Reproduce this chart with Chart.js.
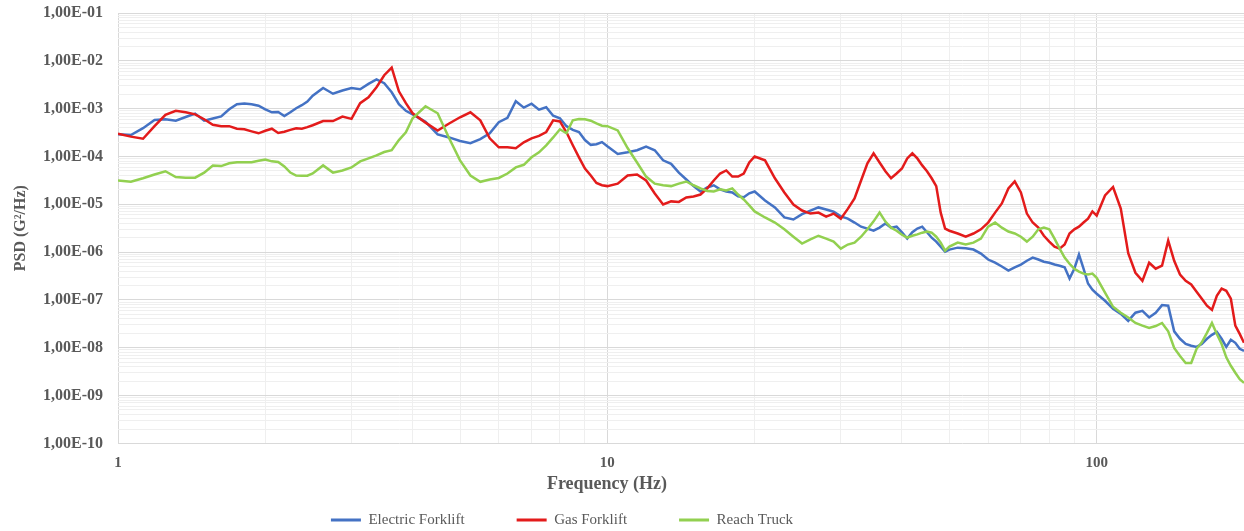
<!DOCTYPE html>
<html>
<head>
<meta charset="utf-8">
<title>PSD</title>
<script src="https://cdn.jsdelivr.net/npm/chart.js@4.4.1/dist/chart.umd.min.js"></script>
<style>
  html, body { margin: 0; padding: 0; background: #fff; overflow: hidden; }
  #wrap { width: 1244px; height: 531px; }
</style>
</head>
<body>
<div id="wrap"><canvas id="psdChart" width="1244" height="531"></canvas></div>
<script>
// Frequenzen (Hz), gemeinsam für alle drei Messreihen
const freqHz = [
  1, 1.0625, 1.125, 1.1875, 1.25, 1.3125, 1.375, 1.4375, 1.5, 1.5625, 1.625, 1.6875, 1.75,
  1.8125, 1.875, 1.9375, 2, 2.0625, 2.125, 2.1875, 2.25, 2.3125, 2.375, 2.4375, 2.5,
  2.625, 2.75, 2.875, 3, 3.125, 3.25, 3.375, 3.5, 3.625, 3.75, 3.875, 4,
  4.25, 4.5, 4.75, 5, 5.25, 5.5, 5.75, 6, 6.25, 6.5, 6.75, 7, 7.25, 7.5, 7.75, 8,
  8.25, 8.5, 8.75, 9, 9.25, 9.5, 9.75, 10,
  10.5, 11, 11.5, 12, 12.5, 13, 13.5, 14, 14.5, 15, 15.5, 16, 16.5, 17, 17.5, 18, 18.5, 19, 19.5, 20,
  21, 22, 23, 24, 25, 26, 27, 28, 29, 30, 31, 32, 33, 34, 35, 36, 37, 38, 39, 40,
  41, 42, 43, 44, 45, 46, 47, 48, 49, 50,
  52, 54, 56, 58, 60, 62, 64, 66, 68, 70, 72, 74, 76, 78, 80, 82, 84, 86, 88, 90, 92, 94, 96, 98, 100,
  104, 108, 112, 116, 120, 124, 128, 132, 136, 140, 144, 148, 152, 156, 160, 164, 168, 172, 176, 180,
  184, 188, 192, 196, 200
];

// PSD in G²/Hz
const electricPsd = [
  2.9e-4, 2.8e-4, 3.9e-4, 5.8e-4, 6.0e-4, 5.6e-4, 6.7e-4, 7.9e-4, 5.6e-4, 6.2e-4, 6.9e-4, 9.7e-4, 1.24e-3,
  1.28e-3, 1.24e-3, 1.15e-3, 9.7e-4, 8.4e-4, 8.5e-4, 7.0e-4, 8.4e-4, 1.02e-3, 1.18e-3, 1.40e-3, 1.86e-3,
  2.7e-3, 2.05e-3, 2.4e-3, 2.7e-3, 2.55e-3, 3.3e-3, 4.1e-3, 3.4e-3, 2.2e-3, 1.24e-3, 9.0e-4, 7.6e-4,
  5.3e-4, 2.9e-4, 2.5e-4, 2.1e-4, 1.9e-4, 2.3e-4, 3.05e-4, 5.2e-4, 6.4e-4, 1.43e-3, 1.05e-3, 1.27e-3,
  9.5e-4, 1.07e-3, 7.1e-4, 6.3e-4, 4.3e-4, 3.6e-4, 3.25e-4, 2.2e-4, 1.75e-4, 1.8e-4, 2.0e-4, 1.63e-4,
  1.13e-4, 1.22e-4, 1.35e-4, 1.6e-4, 1.35e-4, 8.3e-5, 7.0e-5, 4.6e-5, 3.3e-5, 2.4e-5, 1.85e-5, 2.25e-5,
  2.5e-5, 2.05e-5, 1.85e-5, 1.77e-5, 1.46e-5, 1.4e-5, 1.7e-5, 1.85e-5,
  1.2e-5, 8.6e-6, 5.3e-6, 4.8e-6, 6.2e-6, 7.4e-6, 8.6e-6, 7.8e-6, 7.0e-6, 5.6e-6, 5.0e-6, 4.15e-6,
  3.4e-6, 3.1e-6, 2.8e-6, 3.25e-6, 3.95e-6, 3.25e-6, 3.4e-6, 2.6e-6,
  1.92e-6, 2.6e-6, 3.1e-6, 3.4e-6, 2.6e-6, 2.0e-6, 1.66e-6, 1.30e-6, 1.02e-6, 1.13e-6,
  1.24e-6, 1.2e-6, 1.13e-6, 9.3e-7, 7.0e-7, 6.0e-7, 5.0e-7, 4.1e-7, 4.8e-7, 5.5e-7, 6.6e-7, 7.7e-7,
  7.0e-7, 6.3e-7, 6.0e-7, 5.5e-7, 5.2e-7, 4.8e-7, 2.8e-7, 4.5e-7, 8.9e-7, 4.5e-7, 2.2e-7, 1.64e-7, 1.35e-7,
  9.6e-8, 6.5e-8, 5.1e-8, 3.65e-8, 5.4e-8, 5.9e-8, 4.3e-8, 5.4e-8, 7.8e-8, 7.6e-8, 2.2e-8, 1.54e-8,
  1.2e-8, 1.1e-8, 1.04e-8, 1.2e-8, 1.54e-8, 1.86e-8, 2.15e-8, 1.54e-8, 1.04e-8, 1.47e-8, 1.27e-8, 9.5e-9, 8.6e-9
];

const gasPsd = [
  3.0e-4, 2.6e-4, 2.35e-4, 4.3e-4, 7.4e-4, 9.0e-4, 8.4e-4, 7.6e-4, 6.0e-4, 4.6e-4, 4.3e-4, 4.3e-4, 3.8e-4,
  3.7e-4, 3.35e-4, 3.05e-4, 3.45e-4, 3.8e-4, 3.1e-4, 3.3e-4, 3.6e-4, 3.9e-4, 3.8e-4, 4.1e-4, 4.5e-4,
  5.5e-4, 5.5e-4, 6.8e-4, 6.1e-4, 1.30e-3, 1.73e-3, 2.8e-3, 5.0e-3, 7.2e-3, 2.3e-3, 1.30e-3, 8.0e-4,
  5.1e-4, 3.5e-4, 4.9e-4, 6.6e-4, 8.4e-4, 5.7e-4, 2.4e-4, 1.55e-4, 1.55e-4, 1.48e-4, 1.98e-4, 2.4e-4,
  2.7e-4, 3.25e-4, 5.7e-4, 5.4e-4, 3.2e-4, 1.71e-4, 9.6e-5, 5.6e-5, 4.0e-5, 2.8e-5, 2.5e-5, 2.4e-5,
  2.7e-5, 4.0e-5, 4.2e-5, 3.15e-5, 1.68e-5, 9.9e-6, 1.15e-5, 1.12e-5, 1.39e-5, 1.46e-5, 1.6e-5, 2.15e-5,
  3.15e-5, 4.4e-5, 5.1e-5, 3.8e-5, 3.8e-5, 4.4e-5, 7.5e-5, 1.0e-4,
  8.3e-5, 3.5e-5, 1.77e-5, 9.9e-6, 7.4e-6, 6.4e-6, 6.7e-6, 5.5e-6, 6.4e-6, 5.0e-6, 8.0e-6, 1.33e-5,
  3.15e-5, 7.2e-5, 1.16e-4, 7.5e-5, 4.9e-5, 3.5e-5, 4.4e-5, 5.6e-5,
  9.1e-5, 1.16e-4, 9.1e-5, 6.5e-5, 4.9e-5, 3.5e-5, 2.4e-5, 6.7e-6, 3.1e-6, 2.8e-6,
  2.45e-6, 2.1e-6, 2.45e-6, 3.0e-6, 4.15e-6, 6.7e-6, 1.04e-5, 2.15e-5, 3.0e-5, 1.77e-5, 6.4e-6, 4.15e-6,
  3.25e-6, 2.2e-6, 1.66e-6, 1.30e-6, 1.18e-6, 1.44e-6, 2.45e-6, 3.0e-6, 3.4e-6, 4.15e-6, 5.0e-6, 7.1e-6, 5.8e-6,
  1.53e-5, 2.3e-5, 8.1e-6, 9.5e-7, 3.7e-7, 2.5e-7, 6.0e-7, 4.5e-7, 5.2e-7, 1.74e-6, 6.6e-7, 3.4e-7,
  2.5e-7, 2.1e-7, 1.49e-7, 1.06e-7, 7.6e-8, 6.2e-8, 1.22e-7, 1.72e-7, 1.55e-7, 1.06e-7, 2.9e-8, 1.95e-8, 1.27e-8
];

const reachPsd = [
  3.15e-5, 2.95e-5, 3.5e-5, 4.2e-5, 4.9e-5, 3.7e-5, 3.6e-5, 3.6e-5, 4.6e-5, 6.5e-5, 6.3e-5, 7.2e-5, 7.6e-5,
  7.6e-5, 7.6e-5, 8.1e-5, 8.6e-5, 7.9e-5, 7.7e-5, 6.2e-5, 4.6e-5, 4.0e-5, 3.95e-5, 3.95e-5, 4.4e-5,
  6.5e-5, 4.6e-5, 5.1e-5, 5.9e-5, 7.9e-5, 9.1e-5, 1.05e-4, 1.24e-4, 1.35e-4, 2.2e-4, 3.2e-4, 6.3e-4,
  1.12e-3, 8.0e-4, 2.4e-4, 8.3e-5, 4.0e-5, 2.95e-5, 3.3e-5, 3.55e-5, 4.4e-5, 5.9e-5, 6.7e-5, 9.6e-5,
  1.22e-4, 1.71e-4, 2.5e-4, 3.7e-4, 3.05e-4, 5.7e-4, 6.1e-4, 6.0e-4, 5.6e-4, 4.9e-4, 4.4e-4, 4.3e-4,
  3.5e-4, 1.5e-4, 7.5e-5, 3.8e-5, 2.7e-5, 2.5e-5, 2.4e-5, 2.7e-5, 3.0e-5, 2.5e-5, 2.15e-5, 1.9e-5,
  1.85e-5, 2.05e-5, 1.95e-5, 2.15e-5, 1.6e-5, 1.26e-5, 9.5e-6, 7.1e-6,
  5.3e-6, 4.15e-6, 3.0e-6, 2.1e-6, 1.51e-6, 1.84e-6, 2.2e-6, 1.92e-6, 1.66e-6, 1.18e-6, 1.44e-6, 1.58e-6,
  2.1e-6, 3.0e-6, 4.4e-6, 6.7e-6, 4.35e-6, 3.25e-6, 2.8e-6, 2.3e-6,
  2.0e-6, 2.2e-6, 2.35e-6, 2.55e-6, 2.7e-6, 2.55e-6, 2.1e-6, 1.58e-6, 1.07e-6, 1.30e-6,
  1.58e-6, 1.44e-6, 1.58e-6, 1.92e-6, 3.4e-6, 4.15e-6, 3.25e-6, 2.7e-6, 2.45e-6, 2.1e-6, 1.66e-6, 2.1e-6,
  3.0e-6, 3.25e-6, 3.0e-6, 1.92e-6, 1.18e-6, 7.7e-7, 5.7e-7, 4.5e-7, 3.9e-7, 3.55e-7, 3.4e-7, 3.55e-7, 2.9e-7,
  1.42e-7, 7.2e-8, 5.4e-8, 4.3e-8, 3.3e-8, 2.9e-8, 2.6e-8, 2.85e-8, 3.3e-8, 2.2e-8, 9.9e-9, 6.7e-9,
  4.8e-9, 4.8e-9, 9.5e-9, 1.3e-8, 2.05e-8, 3.3e-8, 1.95e-8, 1.2e-8, 6.3e-9, 4.2e-9, 3.0e-9, 2.2e-9, 1.84e-9
];

const seriesNames = ['Electric Forklift', 'Gas Forklift', 'Reach Truck'];
const seriesColors = ['#4472c4', '#e31b1b', '#92d050'];

// Achsenbeschriftungen
const yTickLabels = ['1,00E-10', '1,00E-09', '1,00E-08', '1,00E-07', '1,00E-06',
                     '1,00E-05', '1,00E-04', '1,00E-03', '1,00E-02', '1,00E-01'];
const xTickValues = [1, 10, 100];
const xTickLabels = ['1', '10', '100'];
const xGridValues = [1, 2, 3, 4, 5, 6, 7, 8, 9, 10, 20, 30, 40, 50, 60, 70, 80, 90, 100, 200];

// Gitterlinien der y-Achse: 1..9 je Dekade
const yGridValues = [];
for (let e = -10; e < -1; e++) {
    for (let m = 1; m <= 9; m++) yGridValues.push(m * Math.pow(10, e));
}
yGridValues.push(0.1);

const textGray = '#595959';
const serif = "'Liberation Serif', 'Times New Roman', serif";
const majorGrid = '#d9d9d9';
const minorGrid = '#efefef';
const legendPadding = 52;

const toPoints = values => freqHz.map((f, i) => ({ x: f, y: values[i] }));

const datasets = [electricPsd, gasPsd, reachPsd].map((values, i) => ({
    label: seriesNames[i],
    data: toPoints(values),
    borderColor: seriesColors[i],
    backgroundColor: seriesColors[i],
    borderWidth: 2.5,
    pointRadius: 0,
    tension: 0,
    fill: false,
    order: 3 - i // Reach Truck oben
}));

// Achsentitel und Legende unter dem Diagramm frei platzieren
const placeBottomBlocks = {
    id: 'placeBottomBlocks',
    afterLayout(chart) {
        const place = (box, cx, top, bottom) => {
            if (!box) return;
            const half = box.width / 2;
            box.left = cx - half;
            box.right = cx + half;
            box.top = top;
            box.bottom = bottom;
            box.height = bottom - top;
        };
        // Textmitte "Frequency (Hz)" bei y = 484
        place(chart.titleBlock, 607, 484 - 12.8, 484 + 14.8);
        // Legendenzeile bei y = 520
        place(chart.legend, 562, 520 - legendPadding - 7.5, 531);
    }
};

const ctx = document.getElementById('psdChart').getContext('2d');
const psdChart = new Chart(ctx, {
    type: 'line',
    data: { datasets: datasets },
    plugins: [placeBottomBlocks],
    options: {
        responsive: false,
        animation: false,
        events: [],
        layout: { padding: { top: 13, right: 0, bottom: 4, left: 0 } },
        scales: {
            x: {
                type: 'logarithmic',
                min: 1,
                max: 200,
                afterBuildTicks: s => { s.ticks = xGridValues.map(v => ({ value: v })); },
                afterFit: s => { s.paddingLeft = 0; s.paddingRight = 0; },
                ticks: {
                    autoSkip: false,
                    maxRotation: 0,
                    padding: 11,
                    color: textGray,
                    font: { family: serif, size: 15, weight: 'bold' },
                    callback: v => {
                        const i = xTickValues.indexOf(v);
                        return i >= 0 ? xTickLabels[i] : '';
                    }
                },
                grid: {
                    drawTicks: false,
                    color: c => (c.tick && xTickValues.includes(c.tick.value)) ? majorGrid : minorGrid
                },
                border: { display: false }
            },
            y: {
                type: 'logarithmic',
                min: 1e-10,
                max: 1e-1,
                afterBuildTicks: s => { s.ticks = yGridValues.map(v => ({ value: v })); },
                afterFit: s => { s.width = 118; s.paddingTop = 0; s.paddingBottom = 0; },
                ticks: {
                    autoSkip: false,
                    padding: 15,
                    color: textGray,
                    font: { family: serif, size: 16, weight: 'bold' },
                    callback: (v, i) => (i % 9 === 0 ? yTickLabels[i / 9] : '')
                },
                grid: {
                    drawTicks: false,
                    color: c => (c.index % 9 === 0 ? majorGrid : minorGrid)
                },
                border: { display: false },
                title: {
                    display: true,
                    text: 'PSD (G²/Hz)',
                    color: textGray,
                    font: { family: serif, size: 16, weight: 'bold' },
                    padding: { top: 11, bottom: 0 }
                }
            }
        },
        plugins: {
            title: {
                display: true,
                text: 'Frequency (Hz)',
                position: 'bottom',
                weight: 500,
                color: textGray,
                font: { family: serif, size: 18, weight: 'bold' },
                padding: { top: 2, bottom: 4 }
            },
            legend: {
                position: 'bottom',
                maxHeight: 16,
                labels: {
                    boxWidth: 30,
                    boxHeight: 3,
                    padding: legendPadding,
                    color: textGray,
                    font: { family: serif, size: 15 },
                    sort: (a, b) => a.datasetIndex - b.datasetIndex,
                    generateLabels: chart => Chart.defaults.plugins.legend.labels.generateLabels(chart)
                        .map(l => Object.assign(l, { lineWidth: 0, fillStyle: l.strokeStyle }))
                }
            },
            tooltip: { enabled: false }
        }
    }
});
</script>
</body>
</html>
